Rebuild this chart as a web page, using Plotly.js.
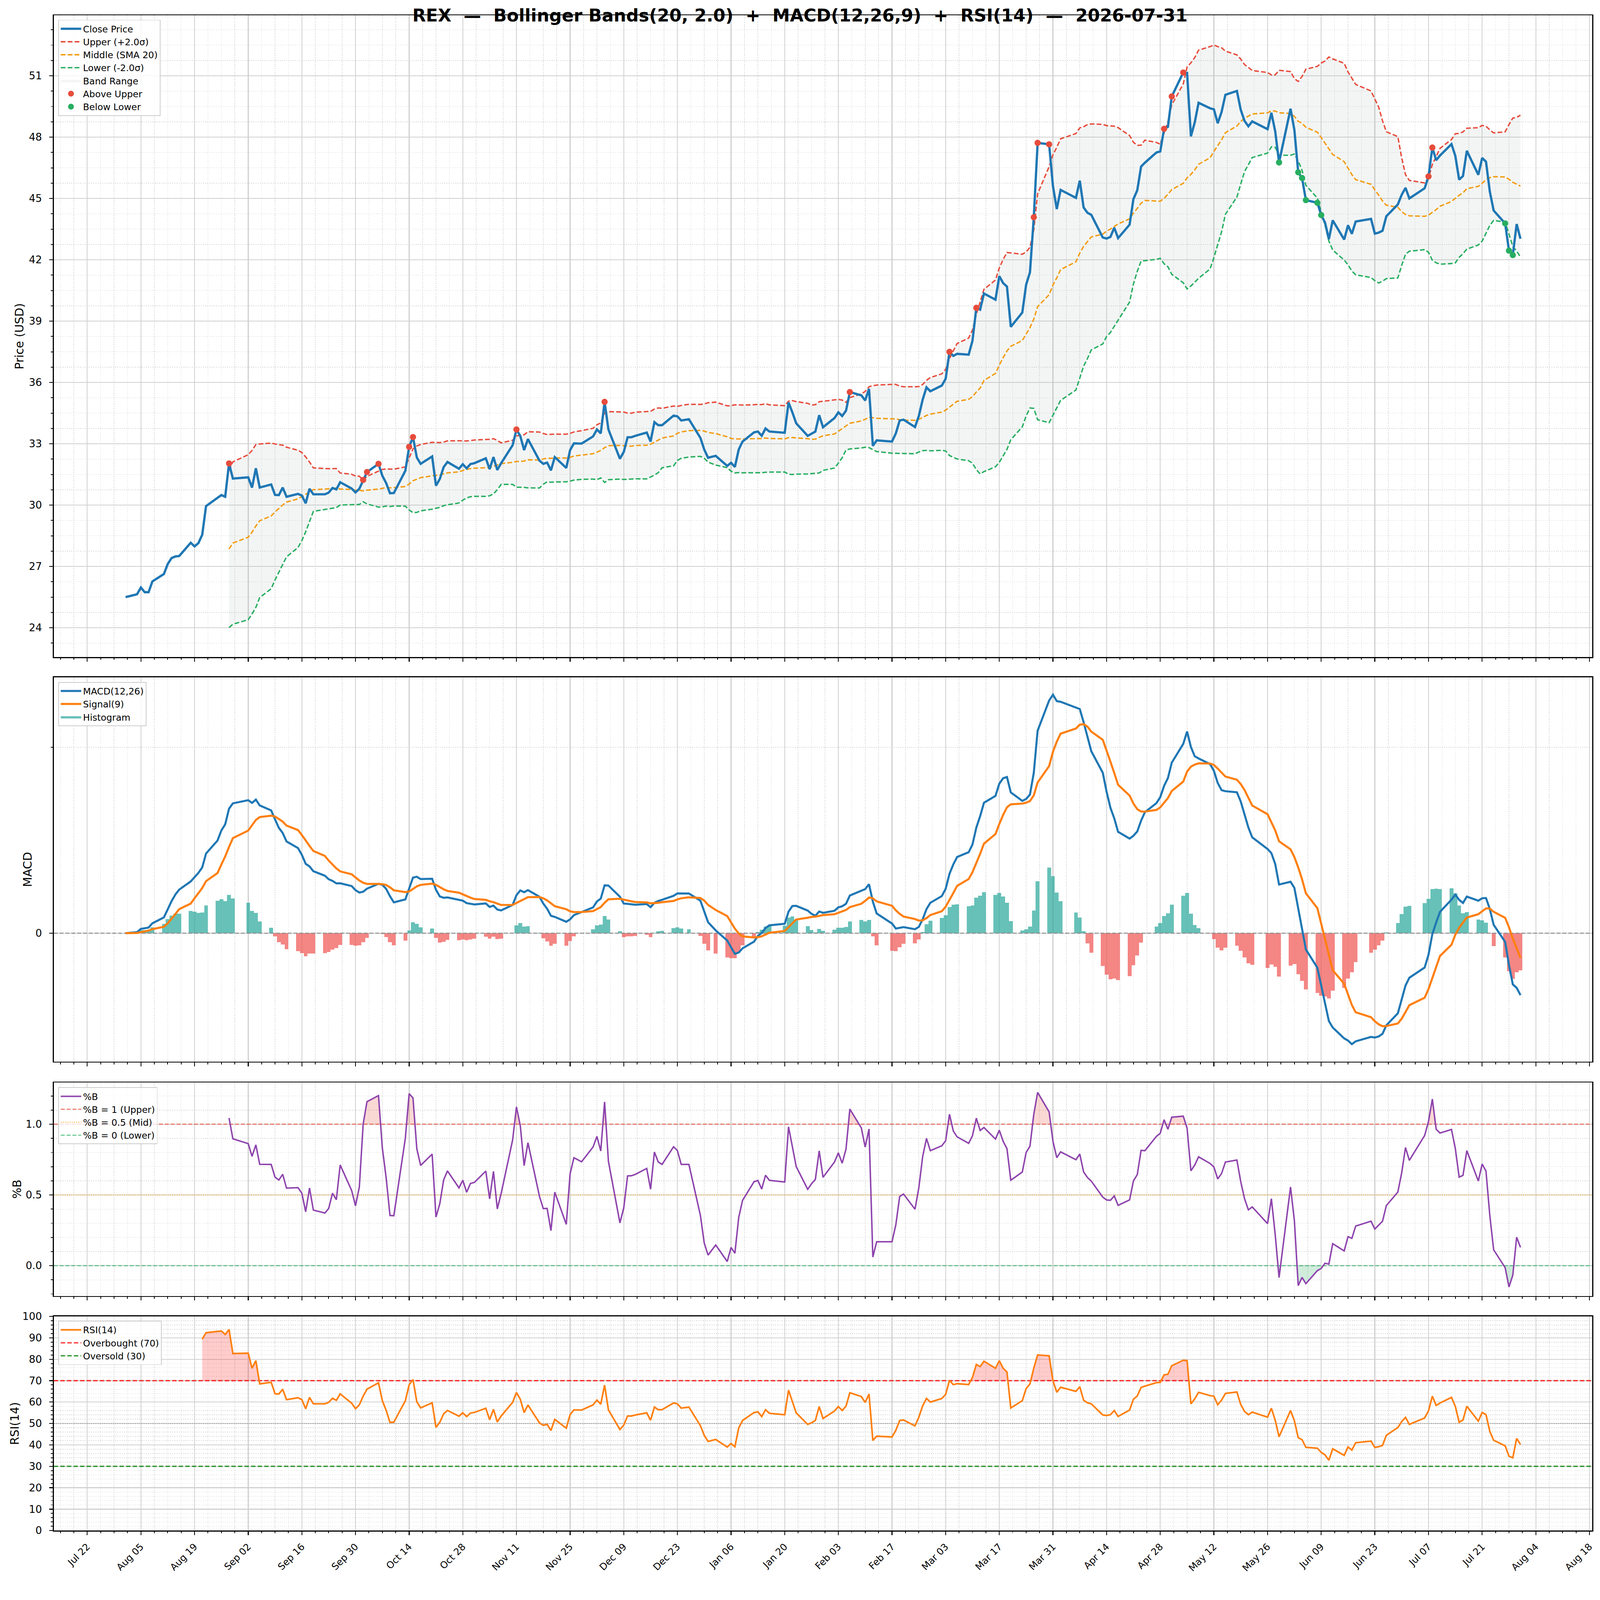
<!DOCTYPE html>
<html>
<head>
<meta charset="utf-8">
<script src="https://cdn.plot.ly/plotly-3.0.1.min.js"></script>
<style>html,body{margin:0;padding:0;background:#fff;overflow:hidden}</style>
</head>
<body>
<div id="wrap" style="position:absolute;left:0;top:0;width:4378px;height:4322px;transform-origin:0 0">
<div id="chart" style="width:4378px;height:4322px"></div>
</div>
<script>
// ---------------- DATA (closing prices, one array per month, NYSE trading days) ----------------
const ticker = 'REX';
const asOfDate = '2026-07-31';
const firstTradingDay = '2025-08-01';
const marketHolidays = ['2025-09-01','2025-11-27','2025-12-25','2026-01-01','2026-01-19',
  '2026-02-16','2026-04-03','2026-05-25','2026-06-19','2026-07-03'];

const closeAug2025 = [25.50,25.64,25.97,25.74,25.74,26.27,26.63,27.12,27.41,27.49,27.51,28.16,27.98,28.14,28.55,29.95,30.36,30.49,30.41,32.04,31.30];
const closeSep2025 = [31.36,30.86,31.80,30.86,31.01,30.50,30.49,30.86,30.41,30.55,30.47,30.09,30.80,30.53,30.53,30.61,30.84,30.77,31.12,30.81,30.62];
const closeOct2025 = [30.80,31.23,31.62,32.02,31.44,31.08,30.58,30.59,31.68,32.85,33.33,32.33,32.02,32.38,30.95,31.28,31.86,32.11,31.78,32.00,31.80,32.01,32.05];
const closeNov2025 = [32.29,31.76,32.35,31.72,32.05,32.93,33.70,33.38,32.69,33.23,32.18,32.02,32.08,31.70,32.35,31.82,32.69,33.02,33.01];
const closeDec2025 = [33.36,33.70,33.51,35.05,33.70,32.27,32.60,33.32,33.32,33.39,33.55,33.11,34.06,33.91,33.91,34.38,34.34,34.14,34.20,33.29,32.72,32.32];
const closeJan2026 = [32.41,31.92,32.07,31.87,32.72,33.11,33.56,33.60,33.39,33.75,33.60,33.54,35.02,34.54,34.00,33.39,33.48,33.60,34.40,33.81];
const closeFeb2026 = [34.26,34.54,34.36,34.62,35.53,35.37,35.12,35.69,32.90,33.17,33.11,33.51,34.14,34.18,33.82,34.36,35.16,35.76,35.57];
const closeMar2026 = [35.85,36.18,37.50,37.30,37.40,37.36,38.04,39.65,39.56,40.35,40.05,41.20,40.86,40.69,38.72,39.42,40.78,41.39,44.08,47.72,47.65,45.60];
const closeApr2026 = [44.48,45.42,45.03,45.87,44.56,44.30,44.20,43.09,43.04,43.12,43.57,43.06,43.72,44.97,45.40,46.56,46.75,47.25,47.30,48.41,48.50];
const closeMay2026 = [49.99,51.16,51.14,48.04,48.72,49.68,49.41,49.36,48.68,49.23,50.07,50.26,49.34,48.79,48.53,48.77,48.39,49.19,48.28,46.76];
const closeJun2026 = [49.39,48.35,46.28,46.00,44.92,44.79,44.19,43.82,43.01,43.93,42.99,43.69,43.27,43.87,44.00,43.28,43.33,43.42,44.13,44.71,45.18];
const closeJul2026 = [45.52,45.00,45.50,46.08,47.49,46.87,47.10,47.66,47.08,45.92,46.10,47.33,46.16,46.98,46.80,45.34,44.41,43.78,42.45,42.23,43.75,43.03];

// indicator parameters (from the title)
const bbPeriod = 20, bbK = 2.0;
const macdFast = 12, macdSlow = 26, macdSignal = 9;
const rsiPeriod = 14;

// ---------------- fit the 4378x4322 figure into the actual viewport ----------------
const FIG_W = 4378, FIG_H = 4322;
(function(){
  const vw = window.innerWidth || document.documentElement.clientWidth || FIG_W;
  const vh = window.innerHeight || document.documentElement.clientHeight || FIG_H;
  const s = Math.min(vw / FIG_W, vh / FIG_H);
  if (s > 0 && Math.abs(s - 1) > 0.002) document.getElementById('wrap').style.transform = 'scale(' + s + ')';
})();

// ---------------- derived series ----------------
const close = [].concat(closeAug2025, closeSep2025, closeOct2025, closeNov2025, closeDec2025, closeJan2026,
  closeFeb2026, closeMar2026, closeApr2026, closeMay2026, closeJun2026, closeJul2026);
const N = close.length;

function pad2(n){ return (n < 10 ? '0' : '') + n; }
function fmtDate(ms, withTime){
  const d = new Date(ms);
  let s = d.getUTCFullYear() + '-' + pad2(d.getUTCMonth() + 1) + '-' + pad2(d.getUTCDate());
  if (withTime) s += ' ' + pad2(d.getUTCHours()) + ':' + pad2(d.getUTCMinutes()) + ':' + pad2(d.getUTCSeconds());
  return s;
}
const DAY = 86400000;
const dates = [], datesMs = [];
{
  const p = firstTradingDay.split('-').map(Number);
  let t = Date.UTC(p[0], p[1] - 1, p[2]);
  while (dates.length < N) {
    const wd = new Date(t).getUTCDay();
    const ds = fmtDate(t);
    if (wd !== 0 && wd !== 6 && marketHolidays.indexOf(ds) < 0) { dates.push(ds); datesMs.push(t); }
    t += DAY;
  }
}

// Bollinger
const mid = new Array(N).fill(null), upper = new Array(N).fill(null), lower = new Array(N).fill(null);
for (let i = bbPeriod - 1; i < N; i++) {
  let s = 0; for (let j = i - bbPeriod + 1; j <= i; j++) s += close[j];
  const m = s / bbPeriod;
  let v = 0; for (let j = i - bbPeriod + 1; j <= i; j++) v += (close[j] - m) * (close[j] - m);
  const sd = Math.sqrt(v / (bbPeriod - 1));
  mid[i] = m; upper[i] = m + bbK * sd; lower[i] = m - bbK * sd;
}
// MACD
function ema(a, span){ const k = 2 / (span + 1); const out = [a[0]]; for (let i = 1; i < a.length; i++) out.push(a[i] * k + out[i - 1] * (1 - k)); return out; }
const emaF = ema(close, macdFast), emaS = ema(close, macdSlow);
const macd = close.map((_, i) => emaF[i] - emaS[i]);
const signal = ema(macd, macdSignal);
const hist = macd.map((v, i) => v - signal[i]);
// RSI (Wilder smoothing, seeded with the simple mean of the first 14 changes)
const rsi = new Array(N).fill(null);
{
  let g = 0, l = 0;
  for (let j = 1; j <= rsiPeriod; j++) { const d = close[j] - close[j - 1]; if (d > 0) g += d; else l -= d; }
  g /= rsiPeriod; l /= rsiPeriod;
  rsi[rsiPeriod] = l === 0 ? 100 : 100 - 100 / (1 + g / l);
  for (let i = rsiPeriod + 1; i < N; i++) {
    const d = close[i] - close[i - 1];
    g = (g * (rsiPeriod - 1) + Math.max(d, 0)) / rsiPeriod;
    l = (l * (rsiPeriod - 1) + Math.max(-d, 0)) / rsiPeriod;
    rsi[i] = l === 0 ? 100 : 100 - 100 / (1 + g / l);
  }
}
// %B
const pctB = close.map((c, i) => upper[i] === null ? null : (c - lower[i]) / (upper[i] - lower[i]));

// band breaches
const aboveX = [], aboveY = [], belowX = [], belowY = [];
for (let i = 0; i < N; i++) {
  if (upper[i] !== null && close[i] > upper[i]) { aboveX.push(dates[i]); aboveY.push(close[i]); }
  if (lower[i] !== null && close[i] < lower[i]) { belowX.push(dates[i]); belowY.push(close[i]); }
}

// fill polygons between a series and a threshold (above or below), split with nulls
function thresholdFill(ys, thr, above){
  const X = [], Y = [];
  let open = false;
  for (let i = 0; i < N; i++) {
    const v = ys[i];
    if (v === null) continue;
    const cond = above ? v > thr : v < thr;
    const prev = i > 0 ? ys[i - 1] : null;
    if (cond) {
      if (!open) {
        open = true;
        if (prev !== null) { const t = (thr - prev) / (v - prev); X.push(fmtDate(datesMs[i - 1] + t * (datesMs[i] - datesMs[i - 1]), true)); }
        else X.push(dates[i]);
        Y.push(thr);
      }
      X.push(dates[i]); Y.push(v);
    } else if (open) {
      const t = (thr - prev) / (v - prev);
      X.push(fmtDate(datesMs[i - 1] + t * (datesMs[i] - datesMs[i - 1]), true)); Y.push(thr);
      X.push(null); Y.push(null);
      open = false;
    }
  }
  if (open) { X.push(dates[N - 1]); Y.push(thr); }
  return {x: X, y: Y};
}

// ---------------- styling ----------------
const FONT = 'DejaVu Sans';
const X_RANGE = ['2025-07-13 06:00:00', '2026-08-18 18:00:00'];
const sl = (a, k) => a.slice(k);
const HIST_POS = 'rgba(38,166,154,0.7)', HIST_NEG = 'rgba(239,83,80,0.7)';

const traces = [];
// ---- Price panel ----
traces.push({x: sl(dates, bbPeriod - 1), y: sl(lower, bbPeriod - 1), xaxis: 'x', yaxis: 'y', mode: 'lines',
  line: {width: 0, color: 'rgba(0,0,0,0)'}, showlegend: false, hoverinfo: 'skip'});
traces.push({x: sl(dates, bbPeriod - 1), y: sl(upper, bbPeriod - 1), xaxis: 'x', yaxis: 'y', mode: 'lines', fill: 'tonexty',
  fillcolor: 'rgba(149,165,166,0.11)', line: {width: 0, color: 'rgba(0,0,0,0)'}, name: 'Band Range', legend: 'legend', legendrank: 5});
traces.push({x: sl(dates, bbPeriod - 1), y: sl(upper, bbPeriod - 1), xaxis: 'x', yaxis: 'y', mode: 'lines',
  line: {width: 3.8, color: '#e74c3c', dash: '13px,6px'}, name: 'Upper (+2.0σ)', legend: 'legend', legendrank: 2});
traces.push({x: sl(dates, bbPeriod - 1), y: sl(mid, bbPeriod - 1), xaxis: 'x', yaxis: 'y', mode: 'lines',
  line: {width: 3.8, color: '#f39c12', dash: '13px,6px'}, name: 'Middle (SMA 20)', legend: 'legend', legendrank: 3});
traces.push({x: sl(dates, bbPeriod - 1), y: sl(lower, bbPeriod - 1), xaxis: 'x', yaxis: 'y', mode: 'lines',
  line: {width: 3.8, color: '#27ae60', dash: '13px,6px'}, name: 'Lower (-2.0σ)', legend: 'legend', legendrank: 4});
traces.push({x: dates, y: close, xaxis: 'x', yaxis: 'y', mode: 'lines',
  line: {width: 6.3, color: '#1f77b4'}, name: 'Close Price', legend: 'legend', legendrank: 1});
traces.push({x: aboveX, y: aboveY, xaxis: 'x', yaxis: 'y', mode: 'markers',
  marker: {size: 17, color: '#e74c3c', line: {width: 0}}, name: 'Above Upper', legend: 'legend', legendrank: 6});
traces.push({x: belowX, y: belowY, xaxis: 'x', yaxis: 'y', mode: 'markers',
  marker: {size: 17, color: '#27ae60', line: {width: 0}}, name: 'Below Lower', legend: 'legend', legendrank: 7});

// ---- MACD panel ----
traces.push({x: dates, y: hist, type: 'bar', xaxis: 'x2', yaxis: 'y2', width: DAY,
  marker: {color: hist.map(h => h >= 0 ? HIST_POS : HIST_NEG), line: {width: 0}},
  showlegend: false, hoverinfo: 'skip'});
// legend patch for the histogram (wide swatch like the reference)
traces.push({x: [null], y: [null], xaxis: 'x2', yaxis: 'y2', mode: 'lines', fill: 'toself',
  fillcolor: HIST_POS, line: {width: 0, color: 'rgba(0,0,0,0)'}, name: 'Histogram', legend: 'legend2', legendrank: 3});
traces.push({x: X_RANGE, y: [0, 0], xaxis: 'x2', yaxis: 'y2', mode: 'lines',
  line: {width: 2.6, color: '#8c8c8c', dash: '11px,5px'}, showlegend: false, hoverinfo: 'skip'});
traces.push({x: dates, y: macd, xaxis: 'x2', yaxis: 'y2', mode: 'lines',
  line: {width: 5.6, color: '#1f77b4'}, name: 'MACD(12,26)', legend: 'legend2', legendrank: 1});
traces.push({x: dates, y: signal, xaxis: 'x2', yaxis: 'y2', mode: 'lines',
  line: {width: 5.6, color: '#ff7f0e'}, name: 'Signal(9)', legend: 'legend2', legendrank: 2});

// ---- %B panel ----
const pbUp = thresholdFill(pctB, 1, true), pbDn = thresholdFill(pctB, 0, false);
traces.push({x: pbUp.x, y: pbUp.y, xaxis: 'x3', yaxis: 'y3', mode: 'lines', fill: 'toself',
  fillcolor: 'rgba(231,76,60,0.22)', line: {width: 0, color: 'rgba(0,0,0,0)'}, showlegend: false, hoverinfo: 'skip'});
traces.push({x: pbDn.x, y: pbDn.y, xaxis: 'x3', yaxis: 'y3', mode: 'lines', fill: 'toself',
  fillcolor: 'rgba(39,174,96,0.22)', line: {width: 0, color: 'rgba(0,0,0,0)'}, showlegend: false, hoverinfo: 'skip'});
traces.push({x: X_RANGE, y: [1, 1], xaxis: 'x3', yaxis: 'y3', mode: 'lines',
  line: {width: 3, color: 'rgba(231,76,60,0.7)', dash: '11px,5px'}, name: '%B = 1 (Upper)', legend: 'legend3', legendrank: 2});
traces.push({x: X_RANGE, y: [0.5, 0.5], xaxis: 'x3', yaxis: 'y3', mode: 'lines',
  line: {width: 3, color: 'rgba(243,156,18,0.6)', dash: 'dot'}, name: '%B = 0.5 (Mid)', legend: 'legend3', legendrank: 3});
traces.push({x: X_RANGE, y: [0, 0], xaxis: 'x3', yaxis: 'y3', mode: 'lines',
  line: {width: 3, color: 'rgba(39,174,96,0.7)', dash: '11px,5px'}, name: '%B = 0 (Lower)', legend: 'legend3', legendrank: 4});
traces.push({x: sl(dates, bbPeriod - 1), y: sl(pctB, bbPeriod - 1), xaxis: 'x3', yaxis: 'y3', mode: 'lines',
  line: {width: 4, color: '#8e44ad'}, name: '%B', legend: 'legend3', legendrank: 1});

// ---- RSI panel ----
const rsiUp = thresholdFill(rsi, 70, true), rsiDn = thresholdFill(rsi, 30, false);
traces.push({x: rsiUp.x, y: rsiUp.y, xaxis: 'x4', yaxis: 'y4', mode: 'lines', fill: 'toself',
  fillcolor: 'rgba(255,0,0,0.2)', line: {width: 0, color: 'rgba(0,0,0,0)'}, showlegend: false, hoverinfo: 'skip'});
traces.push({x: rsiDn.x, y: rsiDn.y, xaxis: 'x4', yaxis: 'y4', mode: 'lines', fill: 'toself',
  fillcolor: 'rgba(0,128,0,0.2)', line: {width: 0, color: 'rgba(0,0,0,0)'}, showlegend: false, hoverinfo: 'skip'});
traces.push({x: X_RANGE, y: [50, 50], xaxis: 'x4', yaxis: 'y4', mode: 'lines',
  line: {width: 2.6, color: '#9a9a9a', dash: 'dot'}, showlegend: false, hoverinfo: 'skip'});
traces.push({x: X_RANGE, y: [70, 70], xaxis: 'x4', yaxis: 'y4', mode: 'lines',
  line: {width: 3.6, color: 'rgba(255,0,0,0.78)', dash: '12px,6px'}, name: 'Overbought (70)', legend: 'legend4', legendrank: 2});
traces.push({x: X_RANGE, y: [30, 30], xaxis: 'x4', yaxis: 'y4', mode: 'lines',
  line: {width: 3.6, color: 'rgba(0,128,0,0.78)', dash: '12px,6px'}, name: 'Oversold (30)', legend: 'legend4', legendrank: 3});
traces.push({x: sl(dates, rsiPeriod), y: sl(rsi, rsiPeriod), xaxis: 'x4', yaxis: 'y4', mode: 'lines',
  line: {width: 4.4, color: '#ff7f0e'}, name: 'RSI(14)', legend: 'legend4', legendrank: 1});

// ---------------- axes ----------------
const GRID = '#d0d0d0', MINOR_GRID = '#dadada';
function xAxis(anchor, labels){
  return {
    type: 'date', range: X_RANGE, anchor: anchor, matches: anchor === 'y' ? undefined : 'x',
    tick0: '2025-07-22', dtick: 14 * DAY, tickformat: '%b %d', tickangle: -45,
    showticklabels: labels, tickfont: {size: 26, family: FONT, color: '#000'}, ticklabelstandoff: 6,
    ticks: 'outside', ticklen: 10, tickwidth: 2.4, tickcolor: '#000',
    showgrid: true, gridcolor: GRID, gridwidth: 2.4,
    showline: true, linecolor: '#000', linewidth: 2.7, mirror: true, zeroline: false,
    minor: {tick0: '2025-07-22', dtick: 3.5 * DAY, ticks: 'outside', ticklen: 5, tickwidth: 2, tickcolor: '#000',
      showgrid: true, gridcolor: MINOR_GRID, griddash: 'dot', gridwidth: 1.6},
    automargin: false
  };
}
function yAxis(domain, extra){
  return Object.assign({
    domain: domain, tickfont: {size: 28, family: FONT, color: '#000'}, ticklabelstandoff: 14,
    ticks: 'outside', ticklen: 10, tickwidth: 2.4, tickcolor: '#000',
    showgrid: true, gridcolor: GRID, gridwidth: 2.4,
    showline: true, linecolor: '#000', linewidth: 2.7, mirror: true, zeroline: false, automargin: false
  }, extra);
}

// MACD scale (5% padding around all MACD data, like the reference autoscale)
const macdAll = macd.concat(signal, hist);
const mMin = Math.min(...macdAll), mMax = Math.max(...macdAll), mPad = 0.05 * (mMax - mMin);
const macdMinorTick = 0.7795 * Math.max(...macd);

const H = FIG_H, PL = 147, PR = 21, PT = 42, PB = 134, PH = H - PT - PB, PW = FIG_W - PL - PR;
const dom = (top, bot) => [(H - PB - bot) / PH, (H - PB - top) / PH];
const MINOR_Y = {ticks: 'outside', ticklen: 5, tickwidth: 2, tickcolor: '#000', showgrid: true, gridcolor: MINOR_GRID, griddash: 'dot', gridwidth: 1.6};

// y-axis labels (placed like the reference, left of each panel's tick labels)
function yLabel(text, xPx, top, bot){
  return {text: text, xref: 'paper', yref: 'paper', x: (xPx - PL) / PW, y: (H - PB - (top + bot) / 2) / PH,
    xanchor: 'center', yanchor: 'middle', textangle: -90, showarrow: false, font: {size: 32, family: FONT, color: '#000'}};
}

const legendBase = {bgcolor: 'rgba(255,255,255,0.8)', bordercolor: '#cccccc', borderwidth: 2,
  font: {size: 25, family: FONT, color: '#000'}, xanchor: 'left', yanchor: 'top', itemwidth: 56,
  traceorder: 'normal', tracegroupgap: 0};

const layout = {
  width: FIG_W, height: FIG_H,
  margin: {l: PL, r: PR, t: PT, b: PB, pad: 0},
  paper_bgcolor: '#ffffff', plot_bgcolor: '#ffffff',
  font: {family: FONT, color: '#000'},
  showlegend: true,
  title: {text: '<b>' + ticker + '\u00a0\u00a0—\u00a0\u00a0Bollinger Bands(20, 2.0)\u00a0\u00a0+\u00a0\u00a0MACD(12,26,9)\u00a0\u00a0+\u00a0\u00a0RSI(14)\u00a0\u00a0—\u00a0\u00a0' + asOfDate + '</b>',
    font: {size: 48, family: FONT, color: '#000'}, xref: 'container', x: 0.5, xanchor: 'center',
    yref: 'container', y: 1 - 42.5 / H, yanchor: 'middle'},
  xaxis: xAxis('y', false), xaxis2: xAxis('y2', false), xaxis3: xAxis('y3', false), xaxis4: xAxis('y4', true),
  yaxis: yAxis(dom(42, 1798), {range: [22.566, 53.957], tick0: 0, dtick: 3,
    minor: Object.assign({dtick: 0.75, tick0: 0}, MINOR_Y)}),
  yaxis2: yAxis(dom(1853, 2905), {range: [mMin - mPad, mMax + mPad], tickmode: 'array', tickvals: [0], ticktext: ['0'],
    minor: Object.assign({tickmode: 'array', tickvals: [macdMinorTick]}, MINOR_Y)}),
  yaxis3: yAxis(dom(2962, 3546), {range: [-0.214, 1.295], tickmode: 'array', tickvals: [0, 0.5, 1], ticktext: ['0.0', '0.5', '1.0'],
    minor: Object.assign({dtick: 0.1, tick0: 0}, MINOR_Y)}),
  yaxis4: yAxis(dom(3602, 4188), {range: [0, 100], tick0: 0, dtick: 10,
    minor: Object.assign({dtick: 2, tick0: 0}, MINOR_Y)}),
  annotations: [
    yLabel('Price (USD)', 53, 42, 1798),
    yLabel('MACD', 76, 1853, 2905),
    yLabel('%B', 47, 2962, 3546),
    yLabel('RSI(14)', 40, 3602, 4188)
  ],
  legend: Object.assign({}, legendBase, {x: 0.0029, y: (H - PB - 54) / PH}),
  legend2: Object.assign({}, legendBase, {x: 0.0029, y: (H - PB - 1866) / PH}),
  legend3: Object.assign({}, legendBase, {x: 0.0029, y: (H - PB - 2975) / PH}),
  legend4: Object.assign({}, legendBase, {x: 0.0029, y: (H - PB - 3614) / PH}),
  bargap: 0
};

Plotly.newPlot('chart', traces, layout, {displayModeBar: false, staticPlot: true});
</script>
</body>
</html>
